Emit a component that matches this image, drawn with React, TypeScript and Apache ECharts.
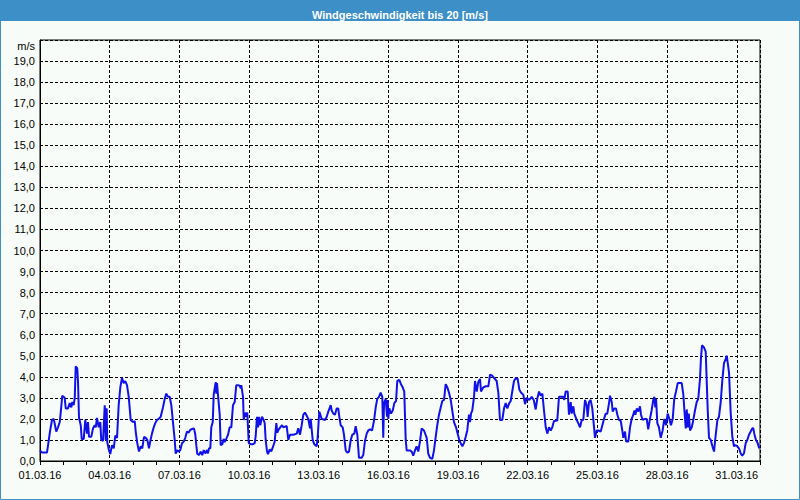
import React, { useEffect, useRef } from 'react';
import * as echarts from 'echarts';

const TITLE = 'Windgeschwindigkeit bis 20 [m/s]';
const UNIT = 'm/s';
const DATE_SUFFIX = '.03.16';
const X_MAX_HOURS = 744;
const Y_MAX = 20;

// hours since 01.03.16 00:00
const HOURS: number[] = [
  0, 2.1, 7.2, 8.8, 10.3, 12.4, 14.2, 15.5, 16.8, 18.6, 20.4, 21.4, 23.0, 25.5, 26.6, 28.9, 30.7, 32.3, 33.4, 34.8,
  35.9, 36.9, 38.5, 39.3, 40.3, 42.1, 43.1, 45.2, 46.8, 48.6, 49.6, 50.6, 53.0, 54.8, 56.5, 57.6, 58.9, 60.7, 62.3, 63.3,
  65.1, 66.9, 67.9, 68.9, 69.5, 71.3, 72.6, 74.4, 76.2, 77.8, 79.6, 81.3, 83.0, 84.7, 86.5, 88.1, 89.9, 91.7, 93.7, 96.1,
  97.9, 98.9, 100.5, 102.3, 104.1, 105.7, 107.5, 109.2, 110.9, 112.6, 114.0, 115.7, 117.5, 119.1, 120.9, 122.7, 124.7, 127.1, 128.9, 130.5,
  132.3, 134.0, 135.7, 137.4, 139.2, 140.2, 141.9, 143.3, 145.0, 146.7, 148.5, 150.1, 151.9, 153.7, 155.3, 157.1, 159.1, 160.5, 161.5, 162.5,
  164.3, 166.1, 167.7, 169.2, 170.8, 172.6, 173.6, 174.6, 176.0, 177.0, 178.5, 179.5, 180.5, 181.6, 182.2, 182.9, 183.9, 185.7, 186.7, 188.4,
  189.8, 190.9, 192.5, 194.3, 196.0, 197.7, 199.4, 201.2, 202.8, 204.6, 206.4, 207.4, 208.0, 209.8, 210.5, 212.1, 213.2, 214.2, 215.7, 217.7,
  220.1, 221.9, 222.9, 224.2, 225.3, 226.3, 227.6, 229.4, 231.1, 232.2, 233.2, 234.6, 235.6, 237.4, 239.0, 240.8, 242.5, 244.2, 245.2, 246.7,
  248.3, 250.1, 251.4, 254.9, 256.6, 258.3, 261.7, 265.3, 266.9, 268.7, 270.4, 272.1, 273.8, 275.6, 277.2, 279.0, 279.7, 281.8, 283.4, 285.9,
  286.9, 288.6, 291.1, 294.5, 296.3, 297.9, 300.4, 301.4, 303.1, 304.8, 306.6, 308.2, 309.3, 310.7, 312.8, 314.1, 315.9, 317.5, 319.3, 321.1,
  322.7, 324.8, 326.2, 327.9, 329.6, 332.4, 334.1, 335.8, 337.6, 339.2, 341.0, 343.1, 345.1, 346.9, 348.5, 350.3, 352.0, 353.7, 354.7, 355.5,
  357.2, 358.6, 359.3, 359.9, 360.9, 362.7, 364.5, 366.1, 367.9, 369.2, 371.3, 373.0, 374.8, 376.4, 377.9, 378.9, 382.3, 384.1, 385.7, 387.5,
  389.2, 390.9, 392.7, 394.4, 396.8, 399.6, 401.2, 403.0, 405.4, 407.1, 408.9, 410.5, 412.3, 414.1, 415.7, 417.5, 419.2, 420.9, 422.6, 424.4,
  426.0, 427.8, 429.9, 431.6, 433.3, 434.7, 436.4, 438.1, 439.9, 441.5, 443.3, 444.3, 445.4, 446.7, 448.5, 449.5, 451.3, 452.9, 454.7, 455.7,
  458.1, 460.6, 463.3, 465.0, 467.4, 469.1, 471.9, 473.6, 475.3, 477.7, 479.5, 481.2, 482.9, 484.9, 486.4, 488.0, 489.8, 491.9, 493.6, 495.3,
  497.0, 499.4, 501.2, 502.9, 505.6, 508.1, 510.2, 512.2, 513.9, 515.7, 517.4, 519.1, 520.8, 522.6, 524.2, 526.0, 527.7, 529.4, 531.1, 534.5,
  536.3, 540.7, 541.7, 543.2, 545.3, 546.6, 548.4, 549.4, 551.1, 552.1, 554.6, 556.2, 558.0, 559.8, 561.4, 563.2, 564.9, 565.9, 567.3, 569.0,
  570.7, 571.8, 573.5, 575.3, 576.9, 579.4, 581.1, 582.8, 584.6, 586.2, 588.0, 589.0, 590.8, 591.8, 593.5, 595.2, 596.6, 598.3, 600.1, 601.7,
  602.8, 604.5, 605.6, 608.0, 609.7, 611.4, 613.1, 614.2, 615.2, 616.7, 618.3, 620.0, 621.0, 622.8, 625.1, 626.9, 628.5, 630.3, 632.0, 633.7,
  634.8, 635.8, 636.6, 637.9, 639.6, 641.4, 643.4, 645.1, 646.9, 648.6, 650.3, 652.0, 653.8, 655.4, 657.2, 659.0, 663.1, 664.8, 665.8, 667.3,
  668.3, 669.3, 670.4, 671.7, 673.5, 675.1, 676.8, 678.6, 680.2, 682.0, 683.0, 684.1, 686.1, 687.9, 688.9, 690.0, 691.3, 693.1, 694.8, 696.5,
  697.9, 700.0, 701.6, 703.4, 705.1, 706.8, 708.6, 709.6, 710.7, 712.0, 713.7, 715.4, 717.1, 718.9, 720.5, 722.3, 724.0, 725.7, 727.5, 729.2,
  730.9, 732.6, 734.4, 736.0, 737.1, 738.1, 739.8, 741.6, 743.2
];

// wind speed in m/s
const SPEED: number[] = [
  0.5, 0.4, 0.4, 0.9, 1.4, 1.95, 2.0, 1.7, 1.4, 1.6, 1.85, 2.3, 3.1, 3.0, 2.5, 2.5, 2.75, 2.55, 2.8, 2.65,
  3.0, 4.5, 4.4, 3.75, 2.05, 1.7, 1.05, 1.05, 1.95, 1.3, 1.85, 1.15, 1.15, 1.55, 1.7, 1.6, 2.05, 1.6, 1.85, 1.0,
  0.95, 2.65, 1.0, 2.5, 0.9, 0.5, 0.33, 0.75, 0.6, 1.2, 1.1, 2.65, 3.5, 3.95, 3.7, 3.8, 3.6, 3.05, 1.95, 1.85,
  1.9, 1.4, 0.85, 0.45, 0.7, 0.6, 1.15, 1.1, 1.0, 0.6, 0.95, 1.3, 1.6, 1.8, 1.95, 2.0, 2.1, 2.55, 2.95, 3.2,
  3.05, 3.05, 2.65, 1.85, 1.0, 0.35, 0.52, 0.44, 0.52, 0.84, 0.92, 1.1, 1.4, 1.35, 1.48, 1.52, 1.55, 1.25, 0.75, 0.35,
  0.28, 0.45, 0.28, 0.52, 0.36, 0.52, 0.36, 0.6, 0.6, 1.6, 1.85, 3.15, 3.45, 3.75, 3.2, 3.7, 3.15, 2.2, 0.75, 0.8,
  1.05, 0.9, 1.05, 1.25, 1.6, 1.6, 2.65, 2.8, 3.6, 3.6, 3.58, 3.45, 3.6, 3.05, 1.95, 2.3, 2.1, 2.3, 0.85, 0.8,
  0.8, 0.85, 1.2, 2.1, 1.6, 2.1, 1.7, 2.1, 1.95, 1.8, 1.0, 0.44, 0.33, 0.55, 0.45, 0.68, 0.92, 1.8, 1.35, 1.5,
  1.6, 1.7, 1.6, 1.66, 1.0, 1.25, 1.25, 1.3, 1.55, 1.25, 1.7, 2.2, 2.3, 2.15, 2.0, 1.55, 2.0, 1.0, 0.8, 0.7,
  1.1, 2.35, 2.0, 1.95, 2.1, 2.35, 2.65, 2.4, 2.25, 2.2, 2.5, 2.5, 2.1, 1.7, 1.6, 1.25, 0.5, 0.4, 0.45, 1.0,
  1.25, 1.3, 1.65, 1.25, 0.15, 0.15, 0.3, 0.95, 1.3, 1.45, 1.5, 1.45, 1.9, 2.55, 2.95, 3.05, 3.25, 3.05, 1.1, 2.75,
  2.95, 2.1, 2.9, 2.0, 2.5, 2.25, 2.4, 2.75, 2.85, 3.8, 3.85, 3.65, 3.5, 3.3, 1.0, 0.5, 0.5, 0.45, 0.25, 0.5,
  0.7, 0.45, 0.95, 1.55, 1.45, 1.1, 0.35, 0.15, 0.1, 0.5, 1.15, 1.7, 2.2, 2.55, 2.85, 2.9, 3.65, 3.5, 3.25, 2.9,
  2.4, 1.85, 1.6, 1.3, 1.0, 0.85, 0.7, 0.85, 1.15, 1.45, 2.2, 1.85, 2.25, 2.4, 3.05, 3.8, 3.3, 3.75, 3.9, 3.3,
  3.5, 3.55, 3.55, 4.1, 4.05, 3.95, 3.8, 3.25, 1.95, 1.95, 2.5, 2.75, 2.5, 2.75, 2.85, 3.3, 3.8, 3.95, 3.9, 3.4,
  3.25, 3.15, 2.7, 3.0, 2.9, 3.05, 2.9, 2.45, 2.97, 3.3, 3.1, 3.2, 2.4, 1.6, 1.3, 1.6, 1.45, 1.6, 1.9, 1.92,
  3.05, 3.05, 2.9, 3.3, 3.3, 2.2, 2.8, 2.25, 2.6, 2.25, 1.95, 1.8, 1.6, 1.95, 1.95, 2.9, 2.65, 2.1, 2.8, 2.9,
  2.5, 1.95, 1.1, 1.45, 1.45, 1.4, 1.7, 2.0, 2.25, 2.25, 2.75, 3.1, 2.8, 2.35, 2.5, 2.5, 2.2, 1.95, 1.9, 1.45,
  1.1, 1.4, 0.93, 0.93, 1.6, 2.0, 2.2, 2.4, 2.2, 2.5, 2.35, 2.6, 2.2, 1.95, 2.0, 2.0, 1.5, 2.0, 2.4, 2.9,
  3.05, 2.55, 2.95, 1.8, 1.6, 1.1, 1.45, 2.0, 1.7, 2.25, 2.0, 1.7, 2.0, 2.95, 3.3, 3.7, 3.7, 3.15, 2.45, 1.55,
  2.45, 1.6, 2.25, 1.45, 1.6, 1.95, 2.4, 2.8, 2.95, 3.9, 4.9, 5.5, 5.4, 5.2, 3.85, 2.4, 1.1, 1.0, 0.7, 0.45,
  1.1, 1.95, 2.1, 2.8, 3.85, 4.65, 4.85, 5.0, 4.65, 4.2, 2.3, 1.15, 0.7, 0.75, 0.7, 0.6, 0.37, 0.25, 0.37, 0.85,
  1.0, 1.25, 1.4, 1.55, 1.55, 1.3, 1.0, 0.85, 0.6
];

const FONT = '"Liberation Sans", Arial, sans-serif';
const BLUE = '#3d8fc7';

function fmtDate(h: number): string {
  if (h % 72 !== 0 || h >= X_MAX_HOURS) return '';
  const day = h / 24 + 1;
  return (day < 10 ? '0' + day : String(day)) + DATE_SUFFIX;
}

export default function App() {
  const ref = useRef<HTMLDivElement>(null);
  useEffect(() => {
    const chart = echarts.init(ref.current!, null, { renderer: 'svg' });
    const data = HOURS.map((h, i) => [h, SPEED[i]]);
    chart.setOption({
      animation: false,
      backgroundColor: '#f8fcf8',
      title: {
        text: TITLE,
        left: 'center',
        top: 4,
        textStyle: { color: '#ffffff', fontSize: 11, fontWeight: 'bold', fontFamily: FONT },
      },
      graphic: [
        { type: 'rect', z: 0, shape: { x: 0, y: 0, width: 800, height: 21 }, style: { fill: BLUE } },
        { type: 'rect', z: 0, shape: { x: 0.5, y: 0.5, width: 799, height: 499 }, style: { fill: 'none', stroke: BLUE, lineWidth: 1 } },
        {
          type: 'text', z: 10, x: 35, y: 46,
          style: { text: UNIT, align: 'right', verticalAlign: 'middle', fill: '#000', font: '11px ' + FONT },
        },
      ],
      grid: { left: 40, right: 40, top: 40, bottom: 39, show: true, borderColor: '#000', borderWidth: 1, backgroundColor: 'transparent' },
      xAxis: [
        {
          type: 'value', min: 0, max: X_MAX_HOURS, interval: 72,
          axisLine: { show: true, lineStyle: { color: '#000', width: 1 } },
          axisTick: { show: false },
          axisLabel: { formatter: fmtDate, color: '#000', fontSize: 11, fontFamily: FONT, margin: 8, showMaxLabel: false },
          splitLine: { show: true, lineStyle: { color: '#000', width: 1, type: [3, 2] } },
        },
        {
          type: 'value', position: 'bottom', min: 0, max: X_MAX_HOURS, interval: 24,
          axisLine: { show: false },
          axisTick: { show: true, length: 4, lineStyle: { color: '#000', width: 1 } },
          axisLabel: { show: false },
          splitLine: { show: false },
        },
      ],
      yAxis: {
        type: 'value', min: 0, max: Y_MAX, interval: 1,
        axisLine: { show: true, lineStyle: { color: '#000', width: 1 } },
        axisTick: { show: false },
        axisLabel: {
          formatter: (v: number) => (v >= Y_MAX ? '' : v.toFixed(1).replace('.', ',')),
          color: '#000', fontSize: 11, fontFamily: FONT, margin: 5,
        },
        splitLine: { show: true, lineStyle: { color: '#000', width: 1, type: [3, 2] } },
      },
      series: [
        {
          type: 'line', xAxisIndex: 0, yAxisIndex: 0, data, showSymbol: false, symbol: 'none',
          lineStyle: { color: '#1010e8', width: 2 }, itemStyle: { color: '#1010e8' }, silent: true,
        },
      ],
    });
    return () => chart.dispose();
  }, []);
  return <div ref={ref} style={{ position: 'fixed', left: 0, top: 0, width: 800, height: 500 }} />;
}
